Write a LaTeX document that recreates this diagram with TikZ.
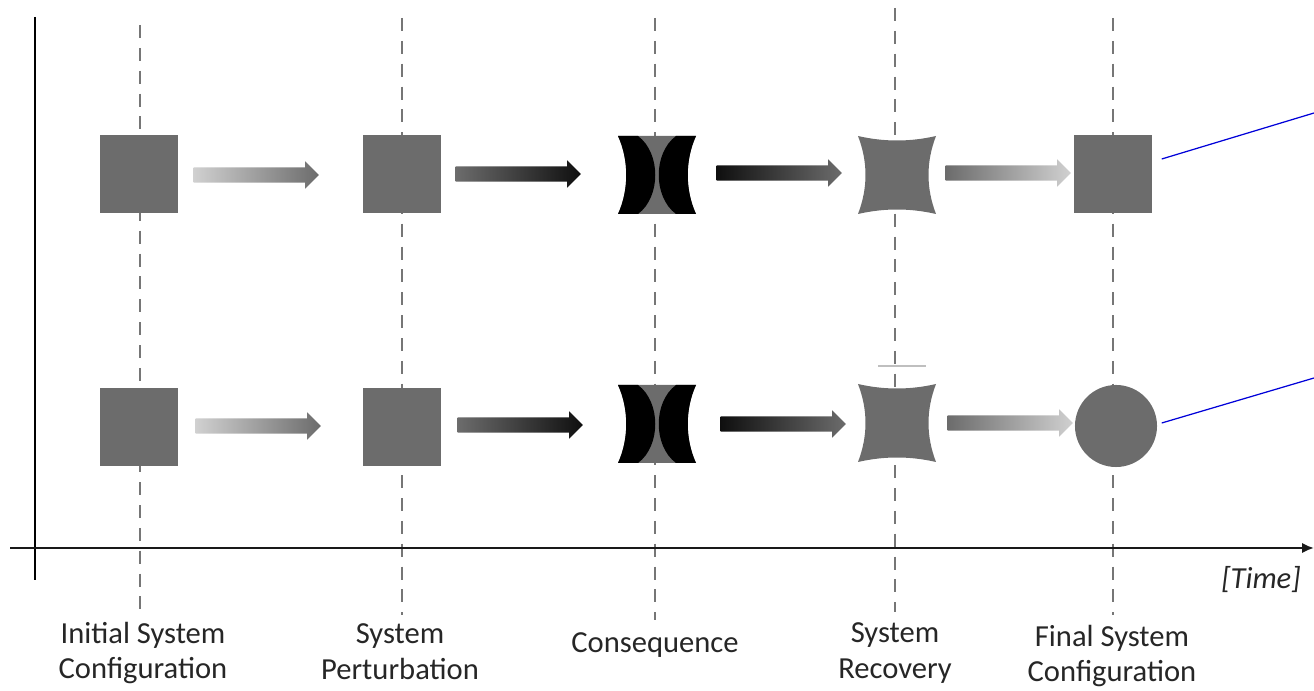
\documentclass[tikz,border=0pt]{standalone}
\usepackage{fontspec}
\setmainfont{Carlito}
\usetikzlibrary{arrows.meta, shapes.arrows}
\definecolor{shapegray}{RGB}{108,108,108}
\definecolor{guidegray}{RGB}{118,118,118}
\definecolor{palegray}{RGB}{208,208,208}
\definecolor{darkblack}{RGB}{15,15,15}

\begin{document}
\begin{tikzpicture}[x=0.01cm, y=-0.01cm, box/.style={fill=shapegray, minimum size=0.78cm, inner sep=0}, flow/.style={single arrow, minimum height=1.25cm, inner xsep=0, inner ysep=0.07cm, single arrow head extend=0.06cm, anchor=tail}, guide/.style={guidegray, line width=0.6pt, dash pattern=on 3.7pt off 2.8pt}, stage/.style={align=center, font=\fontsize{8.7}{10.2}\selectfont, text=black!85}, link/.style={blue!85!black, line width=0.35pt}]

\useasboundingbox (0,0) rectangle (1314,691);

% guide lines and axes
\foreach \gx/\gtop/\gbot in {140/25/610, 402/18/615, 655/18/620, 895/8/612, 1113/18/615} \draw[guide] (\gx,\gtop) -- (\gx,\gbot);
\coordinate (ytop) at (35,17); \coordinate (ybot) at (35,580);
\coordinate (xleft) at (10,548); \coordinate (xright) at (1314,548);
\draw[line width=0.6pt] (ytop) -- (ybot);
\draw[line width=0.85pt, black!90, -{Latex[length=3.4pt, width=3pt]}] (xleft) -- (xright);
\draw[black!25, line width=0.3pt] (878,366) -- (926,366);

% first row
\node[box] (init1) at (139,174) {};
\node[box] (pert1) at (402,174) {};
\node[box] (fin1) at (1113,174) {};
% second row
\node[box] (init2) at (139,427) {};
\node[box] (pert2) at (402,427) {};
\node[circle, fill=shapegray, minimum size=0.82cm, inner sep=0] (fin2) at (1116,426) {};

% consequence and recovery shapes
\foreach \cy/\ry [count=\r] in {175/175, 424/423} {
  \begin{scope}[shift={(657,\cy)}]
    \coordinate (cons\r) at (0,0);
    \fill[shapegray] (-39,-39) -- (39,-39) .. controls (28,-15) and (28,15) .. (39,39) -- (-39,39) .. controls (-28,15) and (-28,-15) .. cycle;
    \fill[black] (-39,-39) .. controls (-28,-15) and (-28,15) .. (-39,39) -- (-19,39) .. controls (4,22) and (4,-22) .. (-19,-39) -- cycle;
    \fill[black] (39,-39) .. controls (28,-15) and (28,15) .. (39,39) -- (19,39) .. controls (-4,22) and (-4,-22) .. (19,-39) -- cycle;
  \end{scope}
  \begin{scope}[shift={(897,\ry)}]
    \coordinate (rec\r) at (0,0);
    \fill[shapegray] (-39,-39) .. controls (-13,-33) and (13,-33) .. (39,-39) .. controls (29,-13) and (29,13) .. (39,39) .. controls (13,33) and (-13,33) .. (-39,39) .. controls (-29,13) and (-29,-13) .. cycle;
  \end{scope}
}

% block arrows
\node[flow, left color=palegray, right color=shapegray] (a11) at (193,175) {};
\node[flow, left color=shapegray, right color=darkblack] (a12) at (455,174) {};
\node[flow, left color=darkblack, right color=shapegray] (a13) at (716,173) {};
\node[flow, left color=shapegray, right color=palegray] (a14) at (945,173) {};
\node[flow, left color=palegray, right color=shapegray] (a21) at (195,426) {};
\node[flow, left color=shapegray, right color=darkblack] (a22) at (457,425) {};
\node[flow, left color=darkblack, right color=shapegray] (a23) at (720,424) {};
\node[flow, left color=shapegray, right color=palegray] (a24) at (947,423) {};

% links leaving the picture
\coordinate (out1) at (1314,113); \coordinate (out2) at (1314,378);
\draw[link] ([shift={(9,-15)}]fin1.east) -- (out1);
\draw[link] ([shift={(4,-3)}]fin2.east) -- (out2);

% stage labels
\node[stage] (lab1) at (143,653) {Initial System\\Configuration};
\node[stage] (lab2) at (400,652) {System\\Perturbation};
\node[stage] (lab3) at (655,645) {Consequence};
\node[stage] (lab4) at (895,653) {System\\Recovery};
\node[stage] (lab5) at (1112,656) {Final System\\Configuration};
\node[stage, font=\fontsize{8.7}{10.2}\selectfont\itshape] (time) at (1261,580) {[Time]};

\end{tikzpicture}
\end{document}
